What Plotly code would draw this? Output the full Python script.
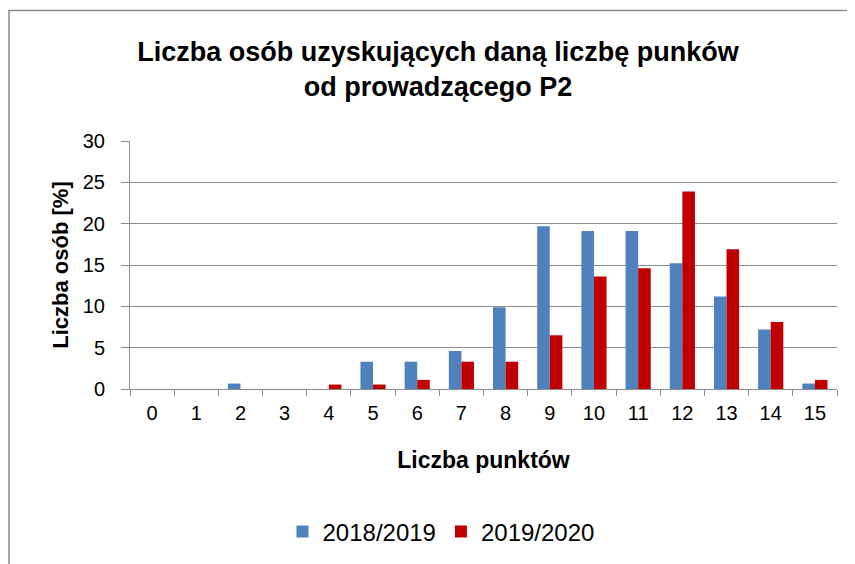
import plotly.graph_objects as go

categories = [str(i) for i in range(16)]
series_2018 = [0, 0, 0.66, 0, 0, 3.3, 3.3, 4.6, 9.9, 19.7, 19.1, 19.1, 15.2, 11.2, 7.2, 0.66]
series_2019 = [0, 0, 0, 0, 0.54, 0.54, 1.1, 3.3, 3.3, 6.5, 13.6, 14.6, 23.9, 16.9, 8.1, 1.1]
names = ["2018/2019", "2019/2020"]
colors = ["#4F81BD", "#C00000"]

# page body has an 8px margin, so the figure is drawn 8px in from the window
OFF = 8
W, H = 855 - OFF, 564 - OFF
L, R, T, B = 130 - OFF, 18, 141 - OFF, 175
pw, ph = W - L - R, H - T - B
FONT = "Liberation Sans"
GREY = "#8C8C8C"

fig = go.Figure()
for name, vals, col in zip(names, [series_2018, series_2019], colors):
    fig.add_trace(go.Bar(x=categories, y=vals, name=name, marker=dict(color=col, line=dict(width=0))))

fig.update_layout(
    width=W, height=H,
    margin=dict(l=L, r=R, t=T, b=B),
    paper_bgcolor="white", plot_bgcolor="white",
    font=dict(family=FONT, color="black"),
    bargap=0.43, bargroupgap=0,
    title=dict(
        text="<b>Liczba osób uzyskujących daną liczbę punków<br>od prowadzącego P2</b>",
        font=dict(family=FONT, size=27, color="black"),
        x=(438 - OFF) / W, xanchor="center", xref="container",
        y=1 - (61 - OFF) / H, yanchor="middle", yref="container",
    ),
    legend=dict(
        orientation="h", xref="container", yref="container",
        x=(441 - OFF) / W, xanchor="center", y=1 - (532 - OFF) / H, yanchor="middle",
        font=dict(family=FONT, size=24, color="black"),
        itemwidth=30, traceorder="normal",
    ),
    xaxis=dict(
        type="category", categoryorder="array", categoryarray=categories,
        showline=True, linecolor=GREY, linewidth=1,
        ticks="outside", tickson="boundaries", ticklen=6, tickcolor=GREY, tickwidth=1,
        tickfont=dict(size=20, color="black"), ticklabelstandoff=6,
        showgrid=False,
        title=dict(text="<b>Liczba punktów</b>", font=dict(size=23, color="black"), standoff=28),
    ),
    yaxis=dict(
        range=[0, 30], dtick=5, tick0=0,
        showline=True, linecolor=GREY, linewidth=1,
        ticks="outside", ticklen=8, tickcolor=GREY, tickwidth=1,
        showgrid=True, gridcolor=GREY, gridwidth=1,
        tickfont=dict(size=20, color="black"), ticklabelstandoff=12,
        zeroline=False,
        title=dict(text="<b>Liczba osób [%]</b>", font=dict(size=22, color="black"), standoff=8),
    ),
)

fig.add_shape(
    type="rect", xref="paper", yref="paper",
    x0=(9 - OFF - L) / pw, x1=(W + 20 - L) / pw,
    y0=-(H + 20 - T - ph) / ph, y1=(T + ph - (10.5 - OFF)) / ph,
    line=dict(color="#8A8A8A", width=1.5), fillcolor="rgba(0,0,0,0)", layer="below",
)

fig.write_html("out.html")
